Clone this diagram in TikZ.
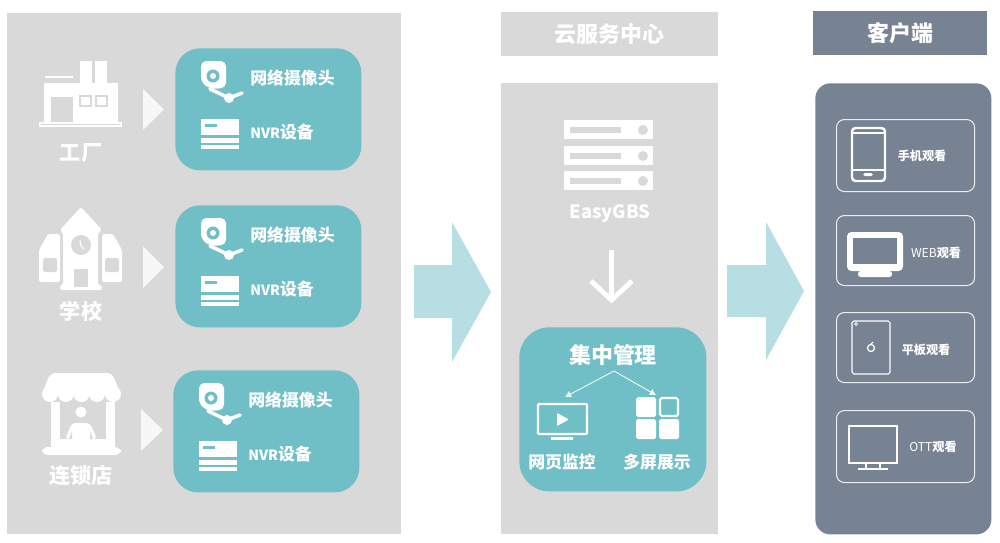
\documentclass[tikz,border=0pt]{standalone}
\usepackage{fontspec}
\setmainfont{Noto Sans CJK SC}
\usetikzlibrary{positioning}
\usetikzlibrary{arrows.meta}
\definecolor{panelgray}{HTML}{D9D9D9}
\definecolor{boxteal}{HTML}{71BFC6}
\definecolor{slate}{HTML}{778293}
\definecolor{arrowteal}{HTML}{B7DEE2}
\tikzset{
  wd/.style={minimum width=#1*0.02cm},
  ht/.style={minimum height=#1*0.02cm},
  block/.style={inner sep=0pt, anchor=north west},
  lbl/.style={inner sep=0pt, text=white, font=\fontsize{9.6}{11}\selectfont\bfseries},
  place/.style={inner sep=0pt, text=white, font=\fontsize{12}{14}\selectfont\bfseries},
  head/.style={inner sep=0pt, text=white, font=\fontsize{12.5}{14}\selectfont\bfseries},
  small/.style={inner sep=0pt, text=white, font=\fontsize{6.9}{8}\selectfont\bfseries},
  viewbox/.style={block, draw=white!85!slate, line width=0.6pt, rounded corners=4.5pt, wd=138},
  camera/.pic={
    \fill[white, rounded corners=3pt] (26,13) -- (51,13) -- (51,40) -- (35,41) -- (26,34) -- cycle;
    \fill[boxteal] (38,28) circle (6.5);
    \fill[white] (38,28) circle (3);
    \draw[white, line width=2pt, line cap=round] (35,41) -- (54,50) -- (67,45);
    \fill[white] (54,50) circle (5);
  },
  recorder/.pic={
    \fill[white] (26,71) rectangle (64,87);
    \fill[boxteal] (30,76) rectangle (42,79);
    \fill[white] (26,90) rectangle (64,95);
    \fill[white] (26,97) rectangle (64,101);
  },
}
\begin{document}
\begin{tikzpicture}[x=0.02cm, y=-0.02cm]
\useasboundingbox (0,0) rectangle (1000,542);
\node[block, fill=panelgray, wd=394, ht=521] (sites) at (7,13) {};
\node[block, fill=panelgray, wd=217, ht=44] (cloudhead) at (501,12) {};
\node[block, fill=panelgray, wd=217, ht=451] (cloud) at (501,83) {};
\node[block, fill=slate, wd=174, ht=44] (clienthead) at (813,11) {};
\node[block, fill=slate, rounded corners=8.5pt, wd=176, ht=451] (clients) at (815,83) {};
\node[head] (cloudtitle) at (cloudhead.center) {云服务中心};
\node[head] (clienttitle) at (clienthead.center) {客户端};

\node[block, fill=boxteal, rounded corners=14pt, wd=186, ht=122] (box1) at (175,48) {};
\node[block, fill=boxteal, rounded corners=14pt, wd=186, ht=122] (box2) at (175,205) {};
\node[block, fill=boxteal, rounded corners=14pt, wd=186, ht=122] (box3) at (173,370) {};
\foreach \i in {1,2,3} {
  \pic at (box\i.north west) {camera};
  \pic at (box\i.north west) {recorder};
  \node[lbl, right=75*0.02cm of box\i.north west, yshift=-30*0.02cm] (cam\i) {网络摄像头};
  \node[lbl, right=75*0.02cm of box\i.north west, yshift=-84*0.02cm] (nvr\i) {{\fontsize{8}{10}\selectfont NVR}设备};
}
\fill[white!97!black] (143,89) -- (164,109.5) -- (143,130) -- cycle;
\fill[white!97!black] (143,246) -- (164,267) -- (143,288) -- cycle;
\fill[white!97!black] (141,409) -- (163,430) -- (141,451) -- cycle;

\fill[white] (44,83) rectangle (118,122);
\fill[white] (80,61) rectangle (92,83);
\fill[white] (95,61) rectangle (107,83);
\draw[white, line width=1pt] (45,77) -- (73,77);
\fill[panelgray] (51,97) rectangle (73,122);
\draw[panelgray, line width=0.8pt] (80,96) rectangle (91,106);
\draw[panelgray, line width=0.8pt] (96,96) rectangle (107,106);
\fill[white] (39,122) rectangle (122,127);
\draw[panelgray, line width=0.5pt] (41,124.5) -- (120,124.5);
\node[place] (factory) at (81,153) {工厂};

\fill[white, rounded corners=1pt] (81,207) -- (102,230) -- (98,233) -- (98,285) -- (102,285) -- (102,290) -- (60,290) -- (60,285) -- (63,285) -- (63,233) -- (60,230) -- cycle;
\fill[white, rounded corners=1pt] (39,282) -- (39,250) -- (48,234) -- (60,234) -- (60,282) -- cycle;
\fill[white, rounded corners=1pt] (122,282) -- (122,250) -- (113,234) -- (102,234) -- (102,282) -- cycle;
\fill[panelgray, rounded corners=1pt] (43,258) rectangle (57,272);
\fill[panelgray, rounded corners=1pt] (105,258) rectangle (119,272);
\fill[panelgray] (81,245) circle (10);
\draw[white, line width=0.7pt] (80,240) -- (81,246) -- (84,249);
\fill[panelgray] (74,269) rectangle (88,287);
\node[place] (school) at (81,311) {学校};

\fill[white, rounded corners=3pt] (50,373) -- (112,373) -- (121,395) -- (42,395) -- cycle;
\foreach \sx in {50,66,81.5,97,113} {
  \fill[white] (\sx,394) circle (8);
}
\fill[white] (51,402) rectangle (60,447);
\fill[white] (106,402) rectangle (115,447);
\fill[white] (51,439) rectangle (115,448);
\fill[white, rounded corners=3.5pt] (42,447) rectangle (121,455);
\fill[white] (81,412) circle (5.5);
\fill[white, rounded corners=2pt] (65,439) -- (72,423) -- (90,423) -- (97,439) -- cycle;
\fill[panelgray] (69,439) -- (72,431) -- (72,439) -- cycle;
\fill[panelgray] (93,439) -- (90,431) -- (90,439) -- cycle;
\node[place] (shop) at (81,476) {连锁店};

\fill[arrowteal] (414,265) -- (452,265) -- (452,222) -- (491,292) -- (452,362) -- (452,318) -- (414,318) -- cycle;
\fill[arrowteal] (727,265) -- (766,265) -- (766,222) -- (804,291) -- (766,360) -- (766,317) -- (727,317) -- cycle;

\foreach \sy in {120,146,171} {
  \fill[white] (564,\sy) rectangle (653,\sy+19);
  \fill[panelgray] (570,\sy+7) rectangle (621,\sy+13);
  \fill[panelgray] (643,\sy+10) circle (5);
}
\node[inner sep=0pt, text=white, font=\fontsize{10.5}{12}\selectfont\bfseries] (easygbs) at (610,214) {EasyGBS};
\coordinate (downtop) at (611.5,250);
\coordinate (downend) at (611.5,300);
\draw[white, line width=2.8pt] (downtop) -- (downend);
\draw[white, line width=2.8pt] (591,281) -- (downend) -- (632,281);

\node[block, fill=boxteal, rounded corners=17pt, wd=187, ht=164] (manage) at (519,327) {};
\node[inner sep=0pt, text=white, font=\fontsize{12.5}{14}\selectfont\bfseries] (managetitle) at (613,355) {集中管理};
\coordinate (split) at (614,371);
\coordinate (webtip) at (565,397);
\coordinate (gridtip) at (656,395);
\draw[-{Latex[length=3.5pt,width=4pt]}, white!90!boxteal, line width=0.5pt] (split) -- (webtip);
\draw[-{Latex[length=3.5pt,width=4pt]}, white!90!boxteal, line width=0.5pt] (split) -- (gridtip);
\draw[white, line width=1.2pt, rounded corners=0.5pt] (538,404) rectangle (587,434);
\fill[white] (551,437) rectangle (573,440);
\fill[white, rounded corners=0.5pt] (557,413) -- (569,419.5) -- (557,426) -- cycle;
\fill[white, rounded corners=1pt] (636,397) rectangle (656,417);
\draw[white, line width=1.2pt, rounded corners=1pt] (660,398) rectangle (678,416);
\fill[white, rounded corners=1pt] (636,419) rectangle (656,439);
\fill[white, rounded corners=1pt] (659,419) rectangle (679,439);
\node[lbl] (web) at (562,462) {网页监控};
\node[lbl] (multi) at (657,462) {多屏展示};

\node[viewbox, ht=72] (phonebox) at (836,119) {};
\node[viewbox, ht=70] (webbox) at (836,215) {};
\node[viewbox, ht=70] (padbox) at (836,312) {};
\node[viewbox, ht=72] (ottbox) at (836,410) {};
\node[small] (phone) at (922,156) {手机观看};
\node[small] (webview) at (936,253) {{\mdseries WEB}观看};
\node[small] (pad) at (926,350) {平板观看};
\node[small] (ott) at (933,447) {{\mdseries OTT}观看};

\draw[white, line width=1.4pt, rounded corners=2pt] (852,128) rectangle (885,181);
\draw[white, line width=1pt] (852,133) -- (885,133);
\draw[white, line width=1pt] (852,170) -- (885,170);
\fill[white, rounded corners=1pt] (863,173) rectangle (873,176);

\fill[white, rounded corners=2.5pt] (847,232) rectangle (903,271);
\fill[slate] (853,238) rectangle (897,264);
\fill[white, rounded corners=1.5pt] (858,271) rectangle (892,277);

\draw[white, line width=0.6pt, rounded corners=1pt] (852,321) rectangle (890,374);
\draw[white, line width=0.4pt] (856,324) circle (1.5);
\draw[white, line width=0.7pt] (871,348) circle (3.5);
\draw[white, line width=0.6pt] (871,344) -- (873,342);

\draw[white, line width=1.1pt] (849,426) rectangle (897,463);
\draw[white, line width=0.9pt] (866,463) -- (866,469);
\draw[white, line width=0.9pt] (880,463) -- (880,469);
\draw[white, line width=1.1pt] (858,469) -- (888,469);
\end{tikzpicture}
\end{document}
